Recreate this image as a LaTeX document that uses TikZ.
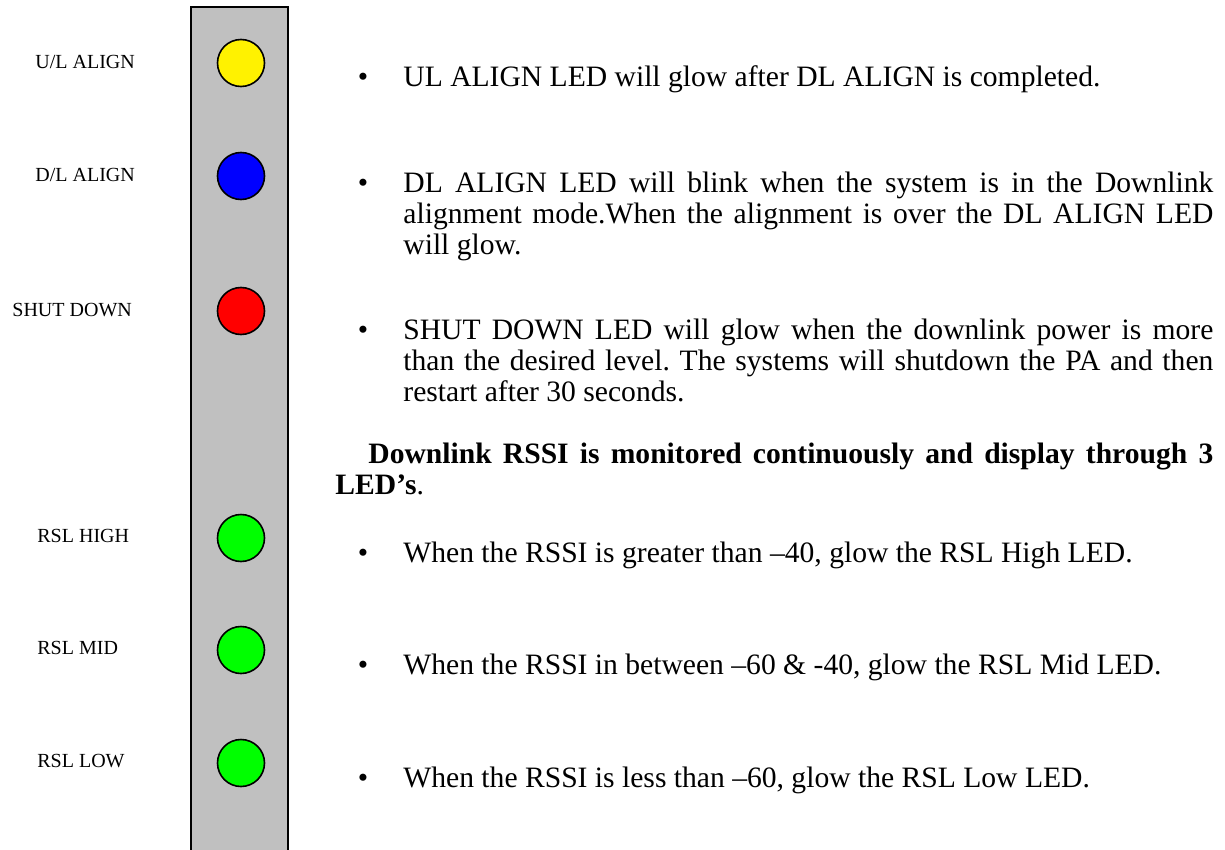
\documentclass[tikz,border=0pt]{standalone}
\usepackage{fontspec}
\setmainfont{Liberation Serif}
\usetikzlibrary{positioning}

\definecolor{panelgray}{RGB}{192,192,192}
\definecolor{ledgreen}{RGB}{0,255,0}

\tikzset{
  led/.style = {circle, draw, line width=0.8pt, minimum size=23.5pt, inner sep=0pt},
  lbl/.style = {anchor=base west, inner sep=0pt, font=\normalsize},
  txt/.style = {anchor=base west, inner sep=0pt, text width=405pt, align=justify,
                font=\fontsize{14.8}{15.5}\selectfont\frenchspacing},
  dot/.style = {anchor=base, inner sep=0pt, font=\fontsize{14.8}{15.5}\selectfont}
}

\begin{document}
\begin{tikzpicture}[x=0.5pt, y=-0.5pt]
  \useasboundingbox (0, 0) rectangle (1225, 850);

  % panel
  \fill [panelgray] (191, 7) rectangle (288, 860);
  \draw [line width=1pt] (191, 860) |- (288, 7) -- (288, 860);

  % LEDs
  \node [led, fill=yellow]   (ledUL)   at (241, 63)  {};
  \node [led, fill=blue]     (ledDL)   at (241, 176) {};
  \node [led, fill=red]      (ledSD)   at (241, 311) {};
  \node [led, fill=ledgreen] (ledHigh) at (241, 538) {};
  \node [led, fill=ledgreen] (ledMid)  at (241, 650) {};
  \node [led, fill=ledgreen] (ledLow)  at (241, 763) {};

  % labels
  \node [lbl] (lblUL)   at (35, 69)  {U/L ALIGN};
  \node [lbl] (lblDL)   at (35, 182) {D/L ALIGN};
  \node [lbl] (lblSD)   at (12, 316) {SHUT DOWN};
  \node [lbl] (lblHigh) at (37, 542) {RSL HIGH};
  \node [lbl] (lblMid)  at (37, 654) {RSL MID};
  \node [lbl] (lblLow)  at (37, 767) {RSL LOW};

  % bullets
  \node [dot] (dotUL)   at (363, 87)  {\textbullet};
  \node [dot] (dotDL)   at (363, 193) {\textbullet};
  \node [dot] (dotSD)   at (363, 339) {\textbullet};
  \node [dot] (dotHigh) at (363, 562) {\textbullet};
  \node [dot] (dotMid)  at (363, 674) {\textbullet};
  \node [dot] (dotLow)  at (363, 787) {\textbullet};

  % text
  \node [txt] (txtUL) at (403, 87)
    {UL ALIGN LED will glow after DL ALIGN is completed.};
  \node [txt] (txtDL) at (403, 193)
    {DL ALIGN LED will blink when the system is in the Downlink\linebreak
     alignment mode.When the alignment is over the DL ALIGN LED\linebreak
     will glow.};
  \node [txt] (txtSD) at (403, 339)
    {SHUT DOWN LED will glow when the downlink power is more\linebreak
     than the desired level. The systems will shutdown the PA and then\linebreak
     restart after 30 seconds.};
  \node [txt, text width=439pt] (txtRSSI) at (335, 463)
    {\hspace*{16.5pt}\textbf{Downlink RSSI is monitored continuously and display through 3\linebreak
     LED’s}.};
  \node [txt] (txtHigh) at (403, 562)
    {When the RSSI is greater than –40, glow the RSL High LED.};
  \node [txt] (txtMid)  at (403, 674)
    {When the RSSI in between –60 \& -40, glow the RSL Mid LED.};
  \node [txt] (txtLow)  at (403, 787)
    {When the RSSI is less than –60, glow the RSL Low LED.};
\end{tikzpicture}
\end{document}
